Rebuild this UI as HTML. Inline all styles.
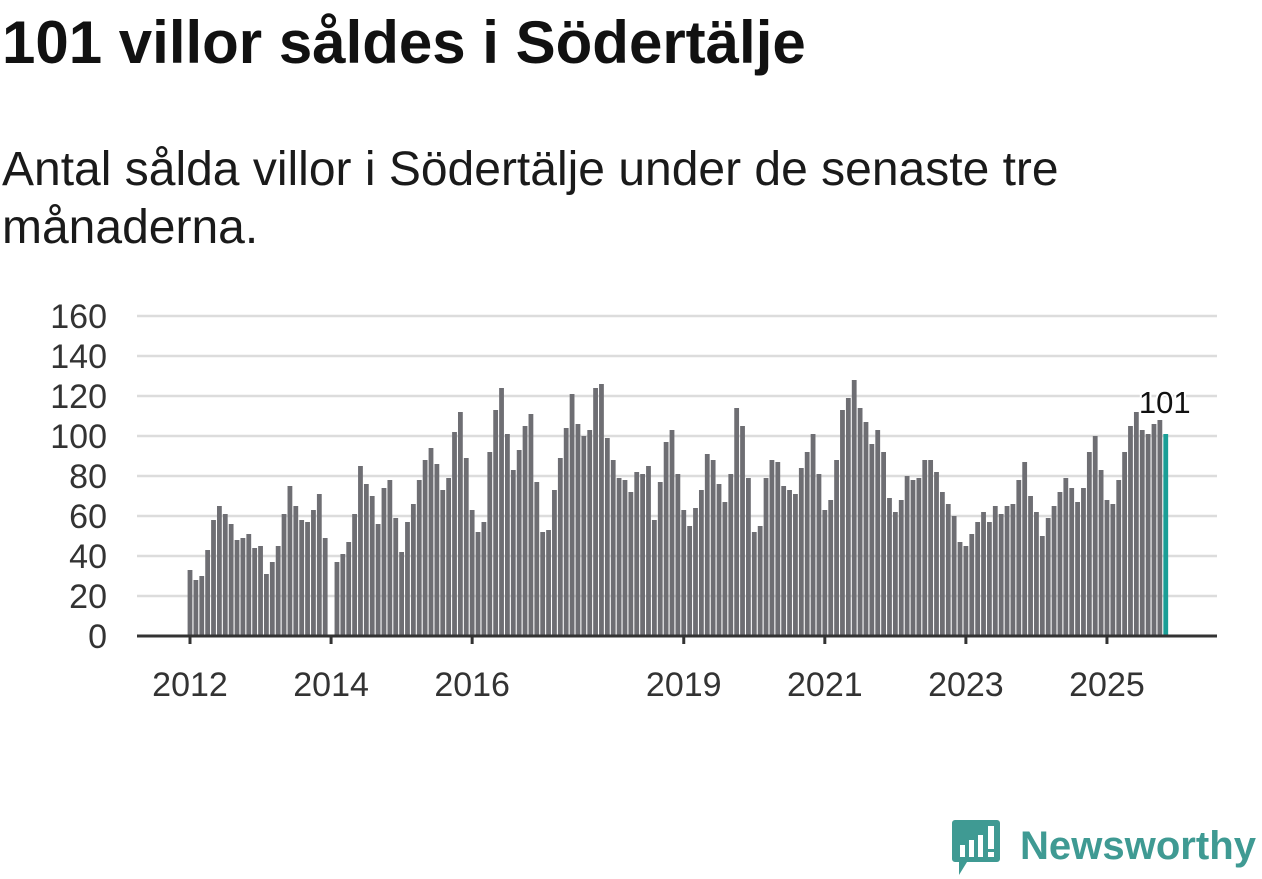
<!DOCTYPE html>
<html><head><meta charset="utf-8"><style>
body{margin:0;width:1262px;height:879px;background:#fff;overflow:hidden;font-family:"Liberation Sans",sans-serif;color:#111}
h1{position:absolute;left:2px;top:9px;margin:0;font-size:60px;line-height:68px;font-weight:bold;white-space:nowrap}
.sub{position:absolute;left:2px;top:141px;margin:0;font-size:48px;line-height:58px;color:#1a1a1a;width:1110px}
svg{position:absolute;left:0;top:0}
</style></head><body>
<h1>101 villor såldes i Södertälje</h1>
<p class="sub">Antal sålda villor i Södertälje under de senaste tre månaderna.</p>
<svg id="chart" width="1262" height="879">
<g id="logo">
<path d="M955 820 h42 a3 3 0 0 1 3 3 v36 a3 3 0 0 1 -3 3 h-30 l-8 13 v-13 h-4 a3 3 0 0 1 -3 -3 v-36 a3 3 0 0 1 3 -3z" fill="#3f9a93"/>
<rect x="960" y="845" width="5" height="12" fill="#fff"/><rect x="969" y="840" width="5" height="17" fill="#fff"/><rect x="978" y="835" width="5" height="22" fill="#fff"/><rect x="988" y="826" width="6" height="23" fill="#fff"/><rect x="988" y="852" width="6" height="5" fill="#fff"/>
<text x="1020" y="859" font-size="40" font-weight="bold" fill="#3f9a93" textLength="236" lengthAdjust="spacingAndGlyphs" font-family="Liberation Sans, sans-serif">Newsworthy</text>
</g>
</svg>
<script>
const years=[2012,2013,2014,2015,2016,2017,2018,2019,2020,2021,2022,2023,2024,2025];
const values=[
33,28,30,43,58,65,61,56,48,49,51,44,
45,31,37,45,61,75,65,58,57,63,71,49,
0,37,41,47,61,85,76,70,56,74,78,59,
42,57,66,78,88,94,86,73,79,102,112,89,
63,52,57,92,113,124,101,83,93,105,111,77,
52,53,73,89,104,121,106,100,103,124,126,99,
88,79,78,72,82,81,85,58,77,97,103,81,
63,55,64,73,91,88,76,67,81,114,105,79,
52,55,79,88,87,75,73,71,84,92,101,81,
63,68,88,113,119,128,114,107,96,103,92,69,
62,68,80,78,79,88,88,82,72,66,60,47,
45,51,57,62,57,65,61,65,66,78,87,70,
62,50,59,65,72,79,74,67,74,92,100,83,
68,66,78,92,105,112,103,101,106,108,101];
const yTicks=[0,20,40,60,80,100,120,140,160];
const xTickYears=[2012,2014,2016,2019,2021,2023,2025];
const lastLabel="101";
const NS="http://www.w3.org/2000/svg";
const svg=document.getElementById('chart');
const x0=190,step=5.878,yBase=636,yScale=2;
const X=i=>x0+i*step;
const Y=v=>yBase-v*yScale;
function mk(t,a){const e=document.createElementNS(NS,t);for(const k in a)e.setAttribute(k,a[k]);svg.appendChild(e);return e;}
yTicks.forEach(t=>{
 if(t>0){const g=mk('line',{x1:137,x2:1217,y1:Y(t),y2:Y(t),stroke:'#dcdcdc','stroke-width':2.5});
 
 }
 const tx=mk('text',{x:107,y:Y(t)+12,'text-anchor':'end','font-size':34,fill:'#333'});tx.textContent=t;
 
 
});
values.forEach((v,i)=>{
 const last=i===values.length-1;
 const r=mk('rect',{x:X(i)-2.4,y:Y(v),width:4.8,height:v*yScale,fill:last?'#1a9e96':'#6e6e73'});
 
 
});
const ax=mk('line',{x1:137,x2:1217,y1:yBase,y2:yBase,stroke:'#333','stroke-width':3});


xTickYears.forEach(y=>{
 const i=(y-years[0])*12;
 const t=mk('line',{x1:X(i),x2:X(i),y1:yBase,y2:yBase+8,stroke:'#333','stroke-width':3});
 
 
 const tx=mk('text',{x:X(i),y:696,'text-anchor':'middle','font-size':34,fill:'#333'});tx.textContent=y;
 
 
});
const li=values.length-1;
const lb=mk('text',{x:X(li)-1,y:Y(values[li])-21,'text-anchor':'middle','font-size':31,fill:'#111',stroke:'#fff','stroke-width':4,'paint-order':'stroke'});
lb.textContent=lastLabel;


</script>
</body></html>
